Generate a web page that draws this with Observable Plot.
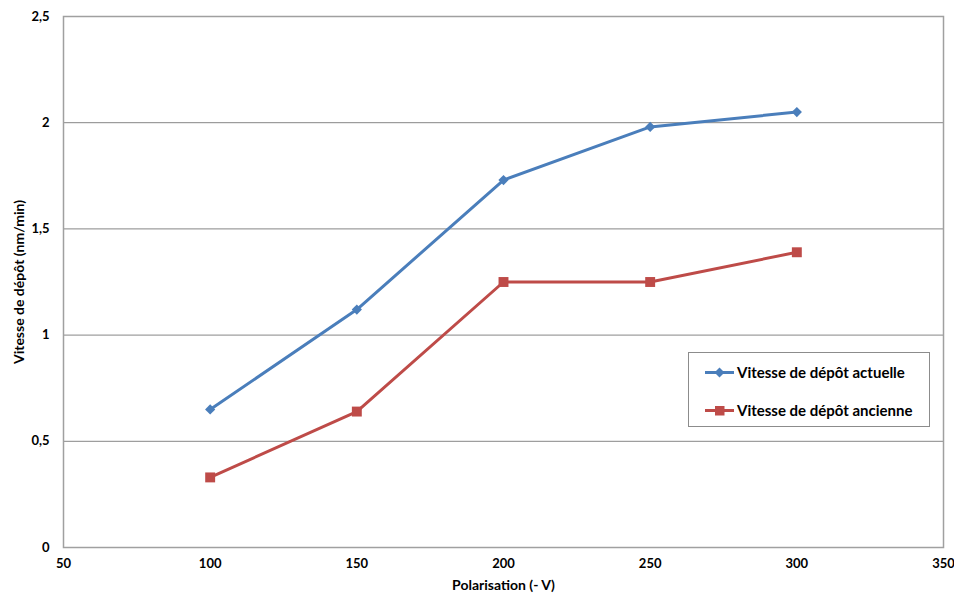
<!DOCTYPE html>
<html>
<head>
<meta charset="utf-8">
<script src="https://cdn.jsdelivr.net/npm/d3@7"></script>
<script src="https://cdn.jsdelivr.net/npm/@observablehq/plot@0.6"></script>
<style>
  body { margin: 0; background: #fff; }
  #wrap { position: relative; width: 954px; height: 595px; font-family: Lato, "Open Sans", sans-serif; }
  #wrap svg text { font-size: 13px; }
  #wrap svg g[aria-label="x-axis label"] text, #wrap svg g[aria-label="y-axis label"] text { font-size: 14px; }
  #legend { position: absolute; left: 688px; top: 352px; width: 240px; height: 73px; border: 1px solid #8c8c8c; background: #fff; }
  .li { position: absolute; left: 16px; height: 20px; display: flex; align-items: center; font-size: 15px; font-weight: bold; color: #000; white-space: nowrap; }
  .li svg { margin-right: 3px; }
</style>
</head>
<body>
<div id="wrap"></div>
<script>
const polarisation = [100, 150, 200, 250, 300];
const actuelle = [0.65, 1.12, 1.73, 1.98, 2.05];
const ancienne = [0.33, 0.64, 1.25, 1.25, 1.39];
const seriesNames = ["Vitesse de dépôt actuelle", "Vitesse de dépôt ancienne"];
const seriesColors = ["#4a7ebb", "#be4b48"];
const xTicks = [50, 100, 150, 200, 250, 300, 350];
const yTicks = [0, 0.5, 1, 1.5, 2, 2.5];
const yTickLabels = ["0", "0,5", "1", "1,5", "2", "2,5"];

const dataA = polarisation.map((x, i) => ({x, y: actuelle[i]}));
const dataB = polarisation.map((x, i) => ({x, y: ancienne[i]}));

const chart = Plot.plot({
  width: 954,
  height: 595,
  marginLeft: 63,
  marginRight: 11,
  marginTop: 16,
  marginBottom: 48,
  style: {fontFamily: "Lato, 'Open Sans', sans-serif", fontSize: "13px", fontWeight: "bold", color: "#000", background: "#fff"},
  x: {domain: [50, 350]},
  y: {domain: [0, 2.5]},
  marks: [
    Plot.gridY(yTicks, {stroke: "#868686", strokeOpacity: 1}),
    Plot.frame({stroke: "#a0a0a0", strokeWidth: 1.5}),
    Plot.axisX({ticks: xTicks, tickSize: 0, tickPadding: 11, label: "Polarisation (- V)", labelAnchor: "center", labelOffset: 42, labelArrow: "none"}),
    Plot.axisY({ticks: yTicks, tickSize: 0, tickPadding: 14, tickFormat: (d) => yTickLabels[yTicks.indexOf(d)], label: "Vitesse de dépôt (nm/min)", labelAnchor: "center", labelOffset: 49, labelArrow: "none"}),
    Plot.line(dataB, {x: "x", y: "y", stroke: seriesColors[1], strokeWidth: 3}),
    Plot.dot(dataB, {x: "x", y: "y", symbol: "square", r: 5.6, fill: seriesColors[1]}),
    Plot.line(dataA, {x: "x", y: "y", stroke: seriesColors[0], strokeWidth: 3}),
    Plot.dot(dataA, {x: "x", y: "y", symbol: "diamond2", r: 4.6, fill: seriesColors[0]})
  ]
});
const wrap = document.getElementById("wrap");
wrap.appendChild(chart);

const legend = document.createElement("div");
legend.id = "legend";
seriesNames.forEach((name, i) => {
  const row = document.createElement("div");
  row.className = "li";
  row.style.top = (i === 0 ? 9 : 47) + "px";
  const shape = i === 0
    ? `<path d="M14.5 3.5 L19.5 8.5 L14.5 13.5 L9.5 8.5 Z" fill="${seriesColors[i]}"/>`
    : `<rect x="10" y="4" width="9.5" height="9.5" fill="${seriesColors[i]}"/>`;
  row.innerHTML = `<svg width="29" height="17"><line x1="0" x2="29" y1="8.5" y2="8.5" stroke="${seriesColors[i]}" stroke-width="3"/>${shape}</svg><span>${name}</span>`;
  legend.appendChild(row);
});
wrap.appendChild(legend);
</script>
</body>
</html>
